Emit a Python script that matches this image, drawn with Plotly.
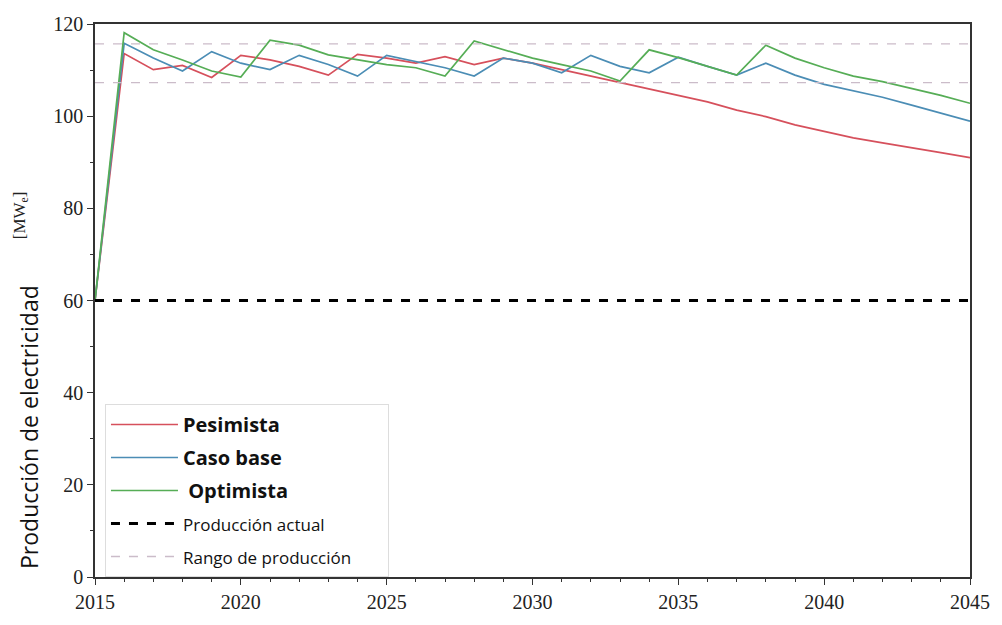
import plotly.graph_objects as go

years = list(range(2015, 2046))
pesimista = [60, 113.6, 110.1, 111.0, 108.4, 113.2, 112.2, 110.8, 108.9, 113.4,
             112.6, 111.5, 112.9, 111.2, 112.6, 111.5, 110.1, 108.7, 107.3, 105.9,
             104.6, 103.1, 101.3, 99.9, 98.1, 96.7, 95.3, 94.2, 93.2, 92.1, 91.0]
caso_base = [60, 115.8, 112.6, 109.8, 114.0, 111.5, 110.1, 113.2, 111.2, 108.7,
             113.2, 111.9, 110.5, 108.7, 112.6, 111.5, 109.4, 113.2, 110.8, 109.4,
             112.8, 110.8, 108.9, 111.5, 108.9, 106.9, 105.5, 104.1, 102.4, 100.6, 98.9]
optimista = [60, 118.1, 114.4, 112.2, 109.8, 108.5, 116.5, 115.4, 113.3, 112.2,
             111.2, 110.5, 108.7, 116.3, 114.4, 112.6, 111.2, 109.8, 107.6, 114.4,
             112.7, 110.8, 108.9, 115.4, 112.6, 110.5, 108.7, 107.5, 106.0, 104.5, 102.8]
produccion_actual = 60
rango = [107.3, 115.7]
x_ticks = [2015, 2020, 2025, 2030, 2035, 2040, 2045]
y_ticks = [0, 20, 40, 60, 80, 100, 120]

small = '<span style="font-size:17px">{}</span>'

fig = go.Figure()
fig.add_trace(go.Scatter(x=years, y=pesimista, mode="lines", name="<b>Pesimista</b>",
                         legendgroup="a", line=dict(color="#d6505c", width=1.7)))
fig.add_trace(go.Scatter(x=years, y=caso_base, mode="lines", name="<b>Caso base</b>",
                         legendgroup="b", line=dict(color="#4b8db5", width=1.7)))
fig.add_trace(go.Scatter(x=years, y=optimista, mode="lines", name="<b> Optimista</b>",
                         legendgroup="c", line=dict(color="#56ad56", width=1.7)))
fig.add_trace(go.Scatter(x=[years[0], years[-1]], y=[produccion_actual] * 2, mode="lines",
                         name=small.format("Producción actual"), legendgroup="d",
                         line=dict(color="black", width=3, dash="dash")))
fig.add_trace(go.Scatter(x=[years[0], years[-1], None, years[0], years[-1]],
                         y=[rango[0], rango[0], None, rango[1], rango[1]], mode="lines",
                         name=small.format("Rango de producción" + "&nbsp;" * 7), legendgroup="e",
                         line=dict(color="#cbbcc9", width=1.3, dash="dash")))

axis_common = dict(showline=True, linecolor="#333", linewidth=1.5, mirror=True,
                   ticks="outside", ticklen=6, tickcolor="#333", showgrid=False,
                   zeroline=False, tickfont=dict(family="Liberation Serif", size=20, color="#222"))

fig.update_xaxes(range=[2015, 2045], tickvals=x_ticks,
                 minor=dict(dtick=1, ticks="outside", ticklen=3, tickcolor="#333"),
                 **axis_common)
fig.update_yaxes(range=[0, 120], tickvals=y_ticks,
                 minor=dict(dtick=10, ticks="outside", ticklen=3, tickcolor="#333"),
                 **axis_common)

fig.add_annotation(text="Producción de electricidad", xref="paper", yref="paper",
                   x=-0.0761, y=0.272, xanchor="center", yanchor="middle",
                   textangle=-90, showarrow=False,
                   font=dict(family="Open Sans", size=23, color="#111"))
fig.add_annotation(text="[MW<sub>e</sub>]", xref="paper", yref="paper",
                   x=-0.0852, y=0.655, xanchor="center", yanchor="middle",
                   textangle=-90, showarrow=False,
                   font=dict(family="Liberation Serif", size=17, color="#222"))

fig.update_layout(
    width=1002, height=625,
    margin=dict(l=95, r=27, t=24, b=33),
    paper_bgcolor="white", plot_bgcolor="white",
    showlegend=True,
    legend=dict(x=0.0114, y=0.0, xanchor="left", yanchor="bottom",
                bgcolor="rgba(255,255,255,0.9)", bordercolor="#dddddd", borderwidth=1,
                font=dict(family="Open Sans", size=20, color="#111"),
                itemwidth=67, tracegroupgap=4, traceorder="grouped"),
)

fig.write_html("out.html")
